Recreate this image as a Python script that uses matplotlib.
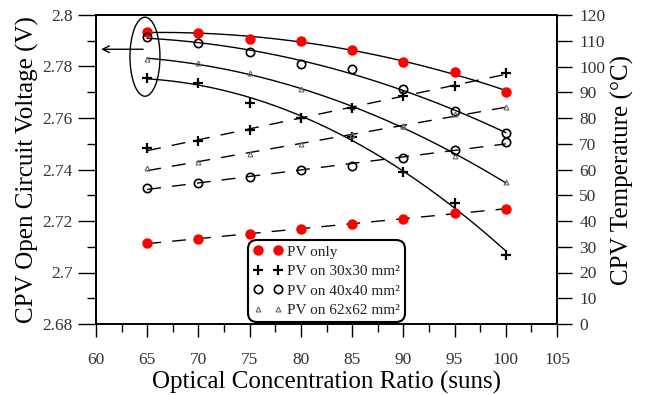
import numpy as np
import matplotlib
matplotlib.use("Agg")
import matplotlib.pyplot as plt
from matplotlib.lines import Line2D
from matplotlib.patches import Ellipse
from matplotlib.ticker import MultipleLocator, FuncFormatter

plt.rcParams.update({
    "font.family": ["Liberation Serif", "DejaVu Serif"],
    "mathtext.fontset": "stix",
})

# concentration ratio (suns)
ratio = np.array([65, 70, 75, 80, 85, 90, 95, 100])

# open circuit voltage (V)
voc_pv = [2.7935, 2.7931, 2.7907, 2.7898, 2.7864, 2.7819, 2.7780, 2.7700]
voc_30 = [2.7757, 2.7737, 2.7657, 2.7599, 2.7527, 2.7392, 2.7271, 2.7068]
voc_40 = [2.7916, 2.7890, 2.7857, 2.7810, 2.7789, 2.7711, 2.7628, 2.7540]
voc_62 = [2.7828, 2.7812, 2.7774, 2.7711, 2.7641, 2.7569, 2.7452, 2.7353]

# cell temperature (deg C)
temp_pv = [31.3, 33.1, 35.1, 36.9, 39.0, 40.8, 43.0, 44.7]
temp_30 = [68.2, 71.2, 75.3, 79.9, 83.8, 88.7, 92.4, 97.6]
temp_40 = [52.7, 54.9, 57.2, 59.8, 61.5, 64.5, 67.6, 70.6]
temp_62 = [60.4, 62.8, 66.0, 69.9, 73.4, 76.9, 81.5, 84.1]

labels = ["PV only", "PV on 30x30 mm²", "PV on 40x40 mm²", "PV on 62x62 mm²"]
styles = [
    dict(marker="o", mfc="#ff0000", mec="#ff0000", ms=6.5),
    dict(marker="+", mfc="black", mec="black", ms=7.5, mew=1.6),
    dict(marker="o", mfc="none", mec="black", ms=6, mew=1.2),
    dict(marker="^", mfc="none", mec="#666666", ms=3.5, mew=0.8),
]

fig = plt.figure(figsize=(6.47, 3.95), dpi=100)
ax = fig.add_axes([96 / 647, 1 - 324 / 395, 461 / 647, 309 / 395])
ax2 = ax.twinx()

xs = np.linspace(65, 100, 200)
# voltage: quadratic trend, solid
for v, st in zip([voc_pv, voc_30, voc_40, voc_62], styles):
    fit = np.polyval(np.polyfit(ratio, v, 2), xs)
    ax.plot(xs, fit, color="black", lw=1.0, zorder=2)
    ax.plot(ratio, v, ls="none", zorder=3, **st)

# temperature: linear trend, dashed
for t, st in zip([temp_pv, temp_30, temp_40, temp_62], styles):
    fit = np.polyval(np.polyfit(ratio, t, 1), xs)
    ax2.plot(xs, fit, color="black", lw=1.0, dashes=(10, 8), zorder=2)
    ax2.plot(ratio, t, ls="none", zorder=3, **st)

# group the 65-sun voltages and point them to the left axis
ax.add_patch(Ellipse((64.78, 2.7838), 2.93, 0.0307, fill=False,
                     lw=1.0, ec="black", zorder=4))
ax.annotate("", xy=(60.5, 2.7867), xytext=(64.6, 2.7867),
            arrowprops=dict(arrowstyle="->", lw=1.0, color="black",
                            shrinkA=0, shrinkB=0, mutation_scale=12))

ax.set_xlim(60, 105)
ax.set_ylim(2.68, 2.80)
ax2.set_ylim(0, 120)

ax.xaxis.set_major_locator(MultipleLocator(5))
ax.xaxis.set_minor_locator(MultipleLocator(2.5))
ax.yaxis.set_major_locator(MultipleLocator(0.02))
ax.yaxis.set_minor_locator(MultipleLocator(0.01))
ax.yaxis.set_major_formatter(FuncFormatter(lambda v, p: f"{v:g}"))
ax2.yaxis.set_major_locator(MultipleLocator(10))

tick_col = "#333333"
ax.tick_params(axis="x", which="major", length=9.5, width=1.0, pad=11,
               labelsize=12.5, labelcolor=tick_col)
ax.tick_params(axis="x", which="minor", length=5.5, width=1.0)
ax.tick_params(axis="y", which="major", length=13, width=1.0, pad=4,
               labelsize=12.5, labelcolor=tick_col)
ax.tick_params(axis="y", which="minor", length=6.5, width=1.0)
ax2.tick_params(axis="y", which="major", length=11, width=1.0, pad=5,
                labelsize=12.5, labelcolor=tick_col)

for a in (ax, ax2):
    for s in a.spines.values():
        s.set_linewidth(1.2)

ax.set_xlabel("Optical Concentration Ratio (suns)", fontsize=18, labelpad=2)
ax.set_ylabel("CPV Open Circuit Voltage (V)", fontsize=18, labelpad=2)
ax2.set_ylabel("CPV Temperature (°C)", fontsize=18, labelpad=4)

handles = [Line2D([], [], ls="none", **st) for st in styles]
leg = ax2.legend(handles, labels, loc="lower center", bbox_to_anchor=(0.5, 0.0),
                 numpoints=2, fontsize=11, frameon=True, fancybox=True,
                 handlelength=1.9, handletextpad=0.3, labelspacing=0.38,
                 borderpad=0.35, borderaxespad=0.1)
for txt in leg.get_texts():
    txt.set_color("#222222")
frame = leg.get_frame()
frame.set_edgecolor("black")
frame.set_linewidth(1.5)
frame.set_alpha(1.0)
frame.set_boxstyle("round", pad=0, rounding_size=0.6)

fig.savefig("out.png", dpi=100)
